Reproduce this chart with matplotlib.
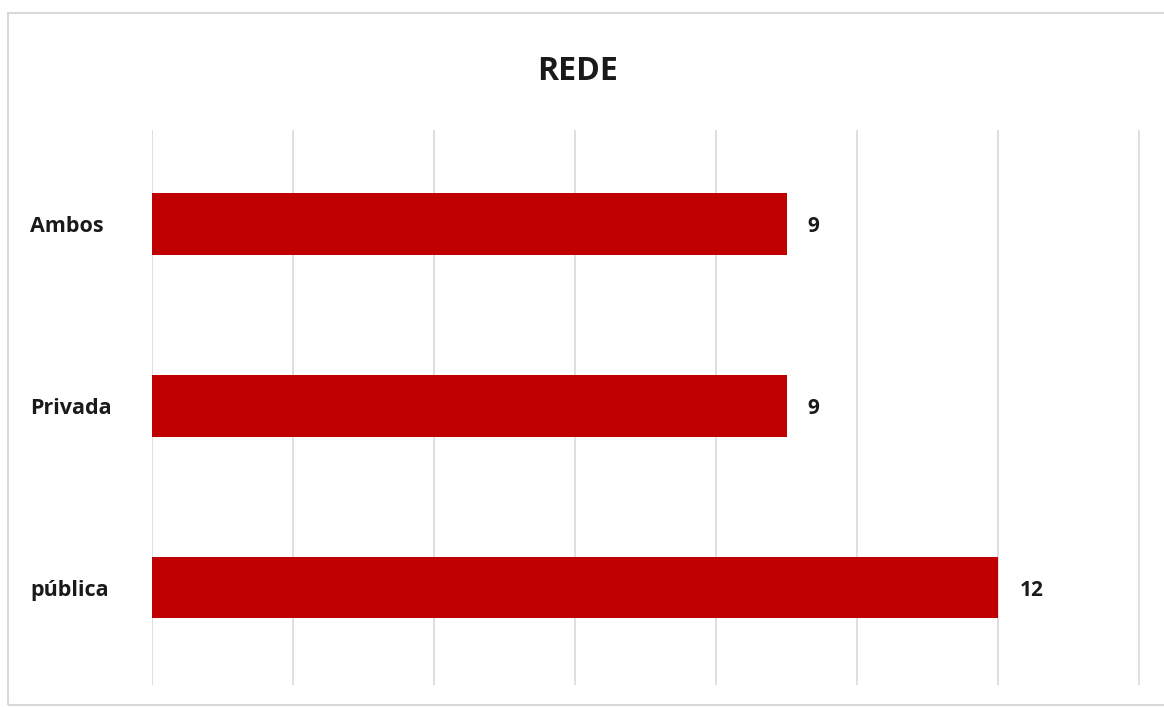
"""Horizontal bar chart: REDE."""

import matplotlib.pyplot as plt
from matplotlib.patches import Rectangle
from matplotlib.transforms import blended_transform_factory

categories = ["pública", "Privada", "Ambos"]
values = [12, 9, 9]
x_ticks = [0, 2, 4, 6, 8, 10, 12, 14]

W, H = 1164, 707
BAR_COLOR = "#C00000"
GRID_COLOR = "#d9d9d9"
TEXT_COLOR = "#1a1a1a"

plt.rcParams["font.family"] = ["Open Sans", "DejaVu Sans"]

fig = plt.figure(figsize=(W / 100, H / 100), dpi=100)

# chart area border (cut off on the right like the source)
fig.patches.append(
    Rectangle((8 / W, 2 / H), 1.2, (H - 15) / H, transform=fig.transFigure,
              fill=False, edgecolor=GRID_COLOR, linewidth=1.5)
)

ax = fig.add_axes([152 / W, 22 / H, 1 - 152 / W, 555 / H])
positions = list(range(len(categories)))
ax.barh(positions, values, height=0.34, color=BAR_COLOR, zorder=2)

ax.set_xlim(0, 14.35)
ax.set_ylim(-0.536, 2.517)
ax.set_xticks(x_ticks)
ax.set_xticklabels([])
ax.set_yticks([])
ax.tick_params(axis="x", length=0)
ax.grid(axis="x", color=GRID_COLOR, linewidth=1.2, zorder=0)
for spine in ax.spines.values():
    spine.set_visible(False)

# category labels, placed from the figure's left edge
label_tf = blended_transform_factory(fig.transFigure, ax.transData)
for pos, name in zip(positions, categories):
    ax.text(30 / W, pos - 0.015, name, transform=label_tf, va="center",
            ha="left", fontsize=15.5, fontweight="bold", color=TEXT_COLOR)

for pos, val in zip(positions, values):
    ax.text(val + 0.3, pos - 0.015, str(val), va="center", ha="left",
            fontsize=15, fontweight="bold", color=TEXT_COLOR)

fig.text(578 / W, 1 - 71 / H, "REDE", ha="center", va="center",
         fontsize=23, fontweight="bold", color=TEXT_COLOR)

fig.savefig("out.png", dpi=100)
